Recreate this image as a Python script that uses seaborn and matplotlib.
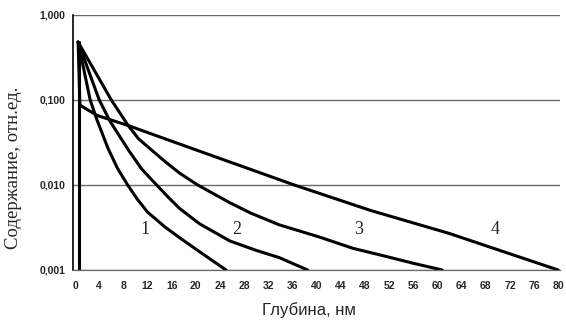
import pandas as pd
import matplotlib
matplotlib.use("Agg")
import matplotlib.pyplot as plt
import matplotlib.ticker as mticker
import seaborn as sns

# depth, nm / relative content
depth_1 = [0.5, 2.5, 3.6, 5.4, 7.0, 8.7, 10.3, 12.0, 14.9, 17.3, 20.3, 25.0]
conc_1 = [0.48, 0.100, 0.059, 0.0275, 0.0158, 0.0100, 0.0068, 0.0048,
          0.0032, 0.0024, 0.0017, 0.0010]

depth_2 = [0.5, 4.0, 5.8, 8.8, 11.0, 13.5, 15.5, 17.3, 20.6, 25.6, 30.0, 33.8, 38.5]
conc_2 = [0.48, 0.100, 0.056, 0.026, 0.0155, 0.0100, 0.0071, 0.0053, 0.0035,
          0.0022, 0.0017, 0.0014, 0.0010]

depth_3 = [0.5, 6.0, 8.8, 10.5, 12.6, 15.0, 17.3, 20.3, 25.6, 29.0, 33.8,
           40.4, 46.0, 51.4, 56.0, 60.8]
conc_3 = [0.48, 0.100, 0.050, 0.035, 0.026, 0.0186, 0.0138, 0.0100, 0.0062,
          0.0047, 0.0034, 0.00245, 0.0018, 0.00145, 0.0012, 0.0010]

depth_4 = [0.5, 0.8, 3.6, 8.8, 20.6, 36.3, 49.0, 61.9, 80.0]
conc_4 = [0.48, 0.087, 0.066, 0.050, 0.025, 0.0100, 0.0050, 0.0027, 0.0010]

# steep drop right at the surface
depth_0 = [0.6, 0.6]
conc_0 = [0.48, 0.001]

curve_names = ["1", "2", "3", "4"]
label_depth = [11.5, 26.7, 47.0, 69.6]
label_conc = [0.0030, 0.0030, 0.0030, 0.0030]

ytick_values = [0.001, 0.01, 0.1, 1.0]
ytick_labels = ["0,001", "0,010", "0,100", "1,000"]

frames = []
for name, xs, ys in [("0", depth_0, conc_0), ("1", depth_1, conc_1),
                     ("2", depth_2, conc_2), ("3", depth_3, conc_3),
                     ("4", depth_4, conc_4)]:
    frames.append(pd.DataFrame({"depth": xs, "conc": ys, "curve": name}))
df = pd.concat(frames, ignore_index=True)

sns.set_style("white")
plt.rcParams["font.family"] = ["Liberation Sans", "DejaVu Sans"]

fig = plt.figure(figsize=(5.66, 3.22), dpi=100)
ax = fig.add_axes([0.1284, 0.1615, 0.861, 0.792])

sns.lineplot(data=df, x="depth", y="conc", hue="curve", units="curve",
             estimator=None, sort=False, palette=["black"] * 5,
             linewidth=2.2, legend=False, ax=ax)

ax.set_yscale("log")
ax.set_ylim(0.001, 1.0)
ax.set_xlim(-0.4, 80.3)

for v in ytick_values:
    ax.axhline(v, color="#6a6a6a", linewidth=1.0, zorder=0)

ax.xaxis.set_major_locator(mticker.MultipleLocator(4))
ax.xaxis.set_minor_locator(mticker.MultipleLocator(1))
ax.set_yticks(ytick_values)
ax.set_yticklabels(ytick_labels)
ax.yaxis.set_minor_locator(mticker.LogLocator(base=10, subs=range(2, 10)))
ax.yaxis.set_minor_formatter(mticker.NullFormatter())

ax.tick_params(axis="x", which="major", direction="inout", length=4,
               width=0.8, color="#555555", labelsize=7.5, pad=6)
ax.tick_params(axis="x", which="minor", direction="inout", length=3,
               width=0.6, color="#777777")
ax.tick_params(axis="y", which="major", direction="inout", length=4,
               width=0.8, labelsize=7.5, pad=3)
ax.tick_params(axis="y", which="minor", direction="in", length=2.5, width=0.6)
for lab in ax.get_xticklabels() + ax.get_yticklabels():
    lab.set_fontweight("bold")

for s in ["top", "right"]:
    ax.spines[s].set_visible(False)
ax.spines["left"].set_color("black")
ax.spines["left"].set_linewidth(1.2)
ax.spines["bottom"].set_color("#6a6a6a")
ax.spines["bottom"].set_linewidth(0.9)

for name, xv, yv in zip(curve_names, label_depth, label_conc):
    ax.text(xv, yv, name, fontsize=13, family="Liberation Serif",
            ha="center", va="center")

ax.set_xlabel("Глубина, нм", fontsize=12)
ax.xaxis.set_label_coords(0.485, -0.125)
ax.set_ylabel("Содержание, отн.ед.", fontsize=13.5, family="Liberation Serif")
ax.yaxis.set_label_coords(-0.105, 0.40)

fig.savefig("out.png", dpi=100)
